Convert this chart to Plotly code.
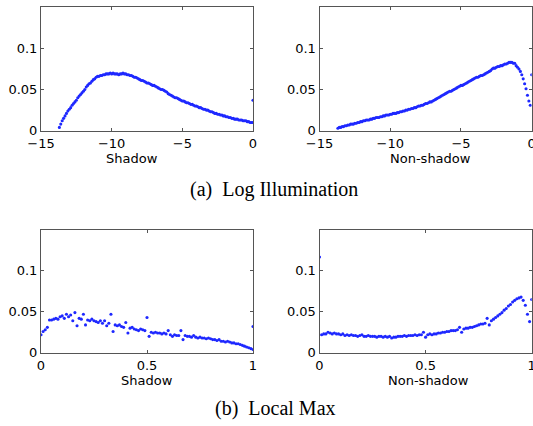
import plotly.graph_objects as go

# ---------------- data ----------------
log_bins = [
    -13.7, -13.6, -13.5, -13.4, -13.3, -13.2, -13.1, -13.0, -12.9, -12.8,
    -12.7, -12.6, -12.5, -12.4, -12.3, -12.2, -12.1, -12.0, -11.9, -11.8,
    -11.7, -11.6, -11.5, -11.4, -11.3, -11.2, -11.1, -11.0, -10.9, -10.8,
    -10.7, -10.6, -10.5, -10.4, -10.3, -10.2, -10.1, -10.0, -9.9, -9.8,
    -9.7, -9.6, -9.5, -9.4, -9.3, -9.2, -9.1, -9.0, -8.9, -8.8,
    -8.7, -8.6, -8.5, -8.4, -8.3, -8.2, -8.1, -8.0, -7.9, -7.8,
    -7.7, -7.6, -7.5, -7.4, -7.3, -7.2, -7.1, -7.0, -6.9, -6.8,
    -6.7, -6.6, -6.5, -6.4, -6.3, -6.2, -6.1, -6.0, -5.9, -5.8,
    -5.7, -5.6, -5.5, -5.4, -5.3, -5.2, -5.1, -5.0, -4.9, -4.8,
    -4.7, -4.6, -4.5, -4.4, -4.3, -4.2, -4.1, -4.0, -3.9, -3.8,
    -3.7, -3.6, -3.5, -3.4, -3.3, -3.2, -3.1, -3.0, -2.9, -2.8,
    -2.7, -2.6, -2.5, -2.4, -2.3, -2.2, -2.1, -2.0, -1.9, -1.8,
    -1.7, -1.6, -1.5, -1.4, -1.3, -1.2, -1.1, -1.0, -0.9, -0.8,
    -0.7, -0.6, -0.5, -0.4, -0.3, -0.2, -0.1, 0.0,
]

shadow_log = [
    0.004, 0.008, 0.012, 0.015, 0.018, 0.021, 0.024, 0.026, 0.028, 0.031,
    0.033, 0.035, 0.037, 0.040, 0.042, 0.044, 0.046, 0.048, 0.050, 0.053,
    0.055, 0.057, 0.058, 0.060, 0.062, 0.063, 0.065, 0.066, 0.066, 0.067,
    0.067, 0.068, 0.068, 0.069, 0.069, 0.069, 0.070, 0.069, 0.070, 0.069,
    0.069, 0.069, 0.068, 0.069, 0.069, 0.070, 0.069, 0.069, 0.068, 0.068,
    0.067, 0.067, 0.066, 0.065, 0.065, 0.064, 0.063, 0.062, 0.061, 0.061,
    0.060, 0.059, 0.058, 0.058, 0.057, 0.056, 0.055, 0.055, 0.054, 0.053,
    0.052, 0.051, 0.050, 0.050, 0.049, 0.048, 0.047, 0.045, 0.044, 0.043,
    0.042, 0.041, 0.040, 0.040, 0.039, 0.038, 0.037, 0.036, 0.036, 0.035,
    0.034, 0.034, 0.033, 0.032, 0.032, 0.031, 0.030, 0.030, 0.029, 0.028,
    0.028, 0.027, 0.026, 0.026, 0.025, 0.025, 0.024, 0.023, 0.023, 0.022,
    0.021, 0.021, 0.020, 0.020, 0.019, 0.019, 0.018, 0.018, 0.017, 0.017,
    0.016, 0.016, 0.015, 0.015, 0.014, 0.014, 0.014, 0.013, 0.013, 0.013,
    0.012, 0.012, 0.012, 0.011, 0.011, 0.010, 0.010, 0.010,
]
shadow_log_edge_x = [0.0]
shadow_log_edge_y = [0.037]

nonshadow_log = [
    0.003, 0.004, 0.004, 0.005, 0.005, 0.006, 0.006, 0.007, 0.007, 0.008,
    0.008, 0.008, 0.009, 0.009, 0.010, 0.010, 0.011, 0.011, 0.012, 0.012,
    0.013, 0.013, 0.013, 0.014, 0.014, 0.015, 0.015, 0.016, 0.016, 0.016,
    0.017, 0.017, 0.018, 0.018, 0.019, 0.019, 0.019, 0.020, 0.020, 0.021,
    0.021, 0.021, 0.022, 0.022, 0.023, 0.023, 0.024, 0.024, 0.025, 0.025,
    0.026, 0.026, 0.027, 0.027, 0.028, 0.028, 0.029, 0.030, 0.030, 0.031,
    0.031, 0.032, 0.033, 0.033, 0.034, 0.035, 0.035, 0.036, 0.037, 0.038,
    0.039, 0.040, 0.041, 0.042, 0.043, 0.044, 0.045, 0.046, 0.047, 0.048,
    0.048, 0.049, 0.050, 0.051, 0.052, 0.053, 0.054, 0.055, 0.055, 0.056,
    0.057, 0.058, 0.059, 0.060, 0.061, 0.062, 0.063, 0.064, 0.065, 0.065,
    0.066, 0.067, 0.067, 0.068, 0.069, 0.070, 0.071, 0.072, 0.073, 0.075,
    0.076, 0.076, 0.077, 0.078, 0.078, 0.079, 0.079, 0.080, 0.081, 0.081,
    0.082, 0.083, 0.083, 0.083, 0.082, 0.082, 0.079, 0.077, 0.075, 0.072,
    0.068, 0.063, 0.057, 0.051, 0.043, 0.036, 0.031, 0.068,
]

max_bins = [
    0.00, 0.01, 0.02, 0.03, 0.04, 0.05, 0.06, 0.07, 0.08, 0.09,
    0.10, 0.11, 0.12, 0.13, 0.14, 0.15, 0.16, 0.17, 0.18, 0.19,
    0.20, 0.21, 0.22, 0.23, 0.24, 0.25, 0.26, 0.27, 0.28, 0.29,
    0.30, 0.31, 0.32, 0.33, 0.34, 0.35, 0.36, 0.37, 0.38, 0.39,
    0.40, 0.41, 0.42, 0.43, 0.44, 0.45, 0.46, 0.47, 0.48, 0.49,
    0.50, 0.51, 0.52, 0.53, 0.54, 0.55, 0.56, 0.57, 0.58, 0.59,
    0.60, 0.61, 0.62, 0.63, 0.64, 0.65, 0.66, 0.67, 0.68, 0.69,
    0.70, 0.71, 0.72, 0.73, 0.74, 0.75, 0.76, 0.77, 0.78, 0.79,
    0.80, 0.81, 0.82, 0.83, 0.84, 0.85, 0.86, 0.87, 0.88, 0.89,
    0.90, 0.91, 0.92, 0.93, 0.94, 0.95, 0.96, 0.97, 0.98, 0.99,
    1.00,
]

shadow_max = [
    0.022, 0.026, 0.028, 0.031, 0.040, 0.040, 0.041, 0.042, 0.041, 0.044,
    0.045, 0.042, 0.047, 0.044, 0.046, 0.039, 0.049, 0.033, 0.042, 0.041,
    0.047, 0.034, 0.040, 0.039, 0.041, 0.039, 0.038, 0.037, 0.039, 0.036,
    0.039, 0.033, 0.036, 0.047, 0.026, 0.034, 0.033, 0.034, 0.032, 0.031,
    0.037, 0.024, 0.030, 0.031, 0.029, 0.028, 0.027, 0.029, 0.028, 0.027,
    0.043, 0.020, 0.025, 0.024, 0.025, 0.024, 0.024, 0.023, 0.024, 0.023,
    0.027, 0.022, 0.020, 0.022, 0.021, 0.021, 0.027, 0.016, 0.021, 0.020,
    0.020, 0.019, 0.021, 0.019, 0.018, 0.019, 0.018, 0.018, 0.017, 0.018,
    0.017, 0.016, 0.016, 0.015, 0.016, 0.014, 0.014, 0.013, 0.014, 0.013,
    0.012, 0.012, 0.011, 0.011, 0.010, 0.009, 0.008, 0.007, 0.006, 0.005,
    0.004,
]
shadow_max_edge_x = [1.0]
shadow_max_edge_y = [0.032]

nonshadow_max = [
    0.117, 0.022, 0.023, 0.023, 0.025, 0.024, 0.023, 0.024, 0.023, 0.023,
    0.022, 0.023, 0.021, 0.022, 0.021, 0.022, 0.021, 0.021, 0.020, 0.021,
    0.022, 0.020, 0.020, 0.021, 0.020, 0.020, 0.020, 0.019, 0.020, 0.020,
    0.019, 0.020, 0.019, 0.020, 0.018, 0.019, 0.019, 0.020, 0.020, 0.020,
    0.021, 0.020, 0.021, 0.021, 0.021, 0.022, 0.021, 0.022, 0.022, 0.025,
    0.019, 0.022, 0.023, 0.022, 0.023, 0.023, 0.024, 0.024, 0.025, 0.025,
    0.026, 0.026, 0.027, 0.027, 0.027, 0.028, 0.031, 0.025, 0.029, 0.030,
    0.030, 0.031, 0.031, 0.032, 0.033, 0.034, 0.035, 0.035, 0.036, 0.042,
    0.034, 0.039, 0.041, 0.043, 0.045, 0.047, 0.049, 0.052, 0.054, 0.057,
    0.059, 0.062, 0.064, 0.066, 0.067, 0.068, 0.064, 0.058, 0.047, 0.038,
    0.065,
]

log_ticks = [-15, -10, -5, 0]
max_ticks = [0, 0.5, 1]
max_tick_text = ["0", "0.5", "1"]
y_ticks = [0, 0.05, 0.1]
y_tick_text = ["0", "0.05", "0.1"]

axis_titles = ["Shadow", "Non-shadow", "Shadow", "Non-shadow"]
captions = ["(a)\u00a0\u00a0Log Illumination", "(b)\u00a0\u00a0Local Max"]

# ---------------- figure ----------------
W, H = 533, 426
BLUE = "rgb(30,40,255)"
marker = dict(size=3.1, color=BLUE, line=dict(width=0))

fig = go.Figure()
fig.add_trace(go.Scatter(x=log_bins, y=shadow_log, mode="markers", marker=marker, xaxis="x", yaxis="y"))
fig.add_trace(go.Scatter(x=shadow_log_edge_x, y=shadow_log_edge_y, mode="markers", marker=marker, xaxis="x", yaxis="y"))
fig.add_trace(go.Scatter(x=log_bins, y=nonshadow_log, mode="markers", marker=marker, xaxis="x2", yaxis="y2"))
fig.add_trace(go.Scatter(x=max_bins, y=shadow_max, mode="markers", marker=marker, xaxis="x3", yaxis="y3"))
fig.add_trace(go.Scatter(x=shadow_max_edge_x, y=shadow_max_edge_y, mode="markers", marker=marker, xaxis="x3", yaxis="y3"))
fig.add_trace(go.Scatter(x=max_bins, y=nonshadow_max, mode="markers", marker=marker, xaxis="x4", yaxis="y4"))

tickfont = dict(family="DejaVu Sans", size=13, color="black")
common = dict(showline=True, linecolor="#555", linewidth=1, mirror="ticks",
              ticks="inside", ticklen=3, tickcolor="#555", tickwidth=1,
              showgrid=False, zeroline=False, tickfont=tickfont, fixedrange=True,
              automargin=False, ticklabeloverflow="allow")
xcommon = dict(common, ticklabelstandoff=1)

def px_x(p):
    return p / W

def px_y(p):
    return 1 - p / H

left = [px_x(41), px_x(253)]
right = [px_x(319.5), px_x(531.7)]
top = [px_y(130.7), px_y(7.2)]
bottom = [px_y(352.7), px_y(230)]

def yax(dom, anchor):
    return dict(common, domain=dom, anchor=anchor, range=[0, 0.15],
                tickvals=y_ticks, ticktext=y_tick_text)

fig.update_layout(
    template="none",
    width=W, height=H, margin=dict(l=0, r=0, t=0, b=0, pad=0, autoexpand=False),
    paper_bgcolor="white", plot_bgcolor="white", showlegend=False,
    xaxis=dict(xcommon, domain=left, anchor="y", range=[-15, 0], tickvals=log_ticks),
    yaxis=yax(top, "x"),
    xaxis2=dict(xcommon, domain=right, anchor="y2", range=[-15, 0], tickvals=log_ticks),
    yaxis2=yax(top, "x2"),
    xaxis3=dict(xcommon, domain=left, anchor="y3", range=[0, 1], tickvals=max_ticks, ticktext=max_tick_text),
    yaxis3=yax(bottom, "x3"),
    xaxis4=dict(xcommon, domain=right, anchor="y4", range=[0, 1], tickvals=max_ticks, ticktext=max_tick_text),
    yaxis4=yax(bottom, "x4"),
)

title_font = dict(family="DejaVu Sans", size=13, color="black")
title_pos = [(132, 158), (430, 158), (147, 380), (428, 380)]
for text, (px, py) in zip(axis_titles, title_pos):
    fig.add_annotation(text=text, x=px_x(px), y=px_y(py), xref="paper", yref="paper",
                       showarrow=False, xanchor="center", yanchor="middle", font=title_font)

cap_font = dict(family="Liberation Serif", size=20, color="black")
cap_pos = [(274, 189), (275, 408)]
for text, (px, py) in zip(captions, cap_pos):
    fig.add_annotation(text=text, x=px_x(px), y=px_y(py), xref="paper", yref="paper",
                       showarrow=False, xanchor="center", yanchor="middle", font=cap_font)

# remove the default 8 px page margin so the figure fills the window exactly
fig.write_html("out.html", config={"displayModeBar": False},
               post_script="document.body.style.margin='0';")
